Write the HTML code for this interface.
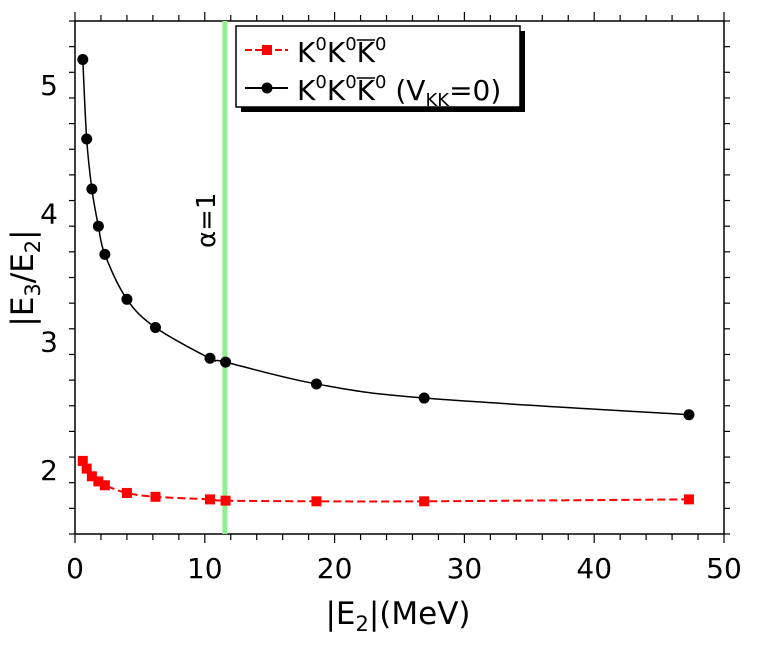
<!DOCTYPE html>
<html><head><meta charset="utf-8"><style>
body{margin:0;background:#fff}
svg text{font-family:"DejaVu Sans","Liberation Sans",sans-serif}
</style></head><body>
<svg id="chart" width="764" height="648" xmlns="http://www.w3.org/2000/svg">
<g id="axes"></g><g id="plot"></g>
<text x="398" y="624" font-size="31" text-anchor="middle">|E<tspan font-size="21" dy="7">2</tspan><tspan dy="-7">|(MeV)</tspan></text>
<text transform="translate(33,278) rotate(-90)" font-size="31" text-anchor="middle">|E<tspan font-size="21" dy="7">3</tspan><tspan dy="-7">/E</tspan><tspan font-size="21" dy="7">2</tspan><tspan dy="-7">|</tspan></text>
<text transform="translate(215,248) rotate(-90)" font-size="26">α=1</text>
<g>
<rect x="241" y="31" width="284" height="81" fill="#000"/>
<rect x="236" y="26" width="284" height="81" fill="#fff" stroke="#000" stroke-width="1.5"/>
<g>
<line x1="245" y1="50" x2="288" y2="50" stroke="red" stroke-width="2" stroke-dasharray="7,3"/>
<rect x="262" y="45" width="10" height="10" fill="red"/>
<text id="lg1" x="297" y="62" font-size="28">K<tspan font-size="18" dy="-12">0</tspan><tspan dy="12">K</tspan><tspan font-size="18" dy="-12">0</tspan><tspan dy="12">K</tspan><tspan font-size="18" dy="-12">0</tspan></text>
</g>
<g>
<line x1="245" y1="88" x2="288" y2="88" stroke="#000" stroke-width="2"/>
<circle cx="267" cy="88" r="5.5" fill="#000"/>
<text id="lg2" x="297" y="100" font-size="28">K<tspan font-size="18" dy="-12">0</tspan><tspan dy="12">K</tspan><tspan font-size="18" dy="-12">0</tspan><tspan dy="12">K</tspan><tspan font-size="18" dy="-12">0</tspan><tspan dy="12"> (V</tspan><tspan font-size="18" dy="6">KK</tspan><tspan dy="-6">=0)</tspan></text>
</g>
</g>
</svg>
<script>
const xVals=[0.6,0.9,1.3,1.8,2.3,4.0,6.2,10.4,11.6,18.6,26.9,47.3];
const blackVals=[5.2,4.58,4.19,3.9,3.68,3.33,3.11,2.87,2.84,2.67,2.56,2.43];
const redVals=[2.07,2.01,1.95,1.91,1.88,1.82,1.79,1.77,1.76,1.755,1.755,1.77];
const xTicks=[0,10,20,30,40,50];
const yTicks=[2,3,4,5];
const alphaX=11.55;
const L=75,R=724,T=21,B=534,xmin=0,xmax=50,ymin=1.5,ymax=5.5;
const sx=v=>L+(v-xmin)/(xmax-xmin)*(R-L);
const sy=v=>B-(v-ymin)/(ymax-ymin)*(B-T);
const NS="http://www.w3.org/2000/svg";
function mk(t,a,p){const e=document.createElementNS(NS,t);for(const k in a)e.setAttribute(k,a[k]);p.appendChild(e);return e;}
const ax=document.getElementById('axes'),pl=document.getElementById('plot');
const frame=mk('rect',{x:L,y:T,width:R-L,height:B-T,fill:'none',stroke:'#000','stroke-width':1.5},ax);


for(let v=0;v<=50.001;v+=2){const x=sx(v),maj=Math.abs(v%10)<1e-6,len=maj?9:6;
const t1=mk('line',{x1:x,y1:B,x2:x,y2:B+len,stroke:'#000','stroke-width':1.2},ax);


const t2=mk('line',{x1:x,y1:T,x2:x,y2:T-len,stroke:'#000','stroke-width':1.2},ax);

}
xTicks.forEach(v=>{const t=mk('text',{x:sx(v),y:B+44,'font-size':28,'text-anchor':'middle'},ax);t.textContent=v;

});
for(let i=0;i<=20;i++){const v=1.5+i*0.2,y=sy(v),maj=Math.abs(v-Math.round(v))<1e-6,len=maj?9:6;
const t1=mk('line',{x1:L,y1:y,x2:L-len,y2:y,stroke:'#000','stroke-width':1.2},ax);


const t2=mk('line',{x1:R,y1:y,x2:R+len,y2:y,stroke:'#000','stroke-width':1.2},ax);

}
yTicks.forEach(v=>{const t=mk('text',{x:L-17,y:sy(v)+10,'font-size':28,'text-anchor':'end'},ax);t.textContent=v;

});
const gl=mk('line',{x1:sx(alphaX),y1:T,x2:sx(alphaX),y2:B,stroke:'#90ee90','stroke-width':5},pl);


function smooth(ys){const p=xVals.map((x,i)=>[sx(x),sy(ys[i])]);let d='M'+p[0];
for(let i=0;i<p.length-1;i++){const p0=p[i-1]||p[i],p1=p[i],p2=p[i+1],p3=p[i+2]||p2;
d+=' C'+(p1[0]+(p2[0]-p0[0])/6)+','+(p1[1]+(p2[1]-p0[1])/6)+' '+(p2[0]-(p3[0]-p1[0])/6)+','+(p2[1]-(p3[1]-p1[1])/6)+' '+p2;}return d;}
const rl=mk('path',{d:smooth(redVals),fill:'none',stroke:'red','stroke-width':2,'stroke-dasharray':'8,4'},pl);


const bl=mk('path',{d:smooth(blackVals),fill:'none',stroke:'#000','stroke-width':1.5},pl);


xVals.forEach((x,i)=>{const r=mk('rect',{x:sx(x)-5,y:sy(redVals[i])-5,width:10,height:10,fill:'red'},pl);


const c=mk('circle',{cx:sx(x),cy:sy(blackVals[i]),r:5.5,fill:'#000'},pl);

});
['lg1','lg2'].forEach(id=>{const t=document.getElementById(id);const e=t.getExtentOfChar(4);const base=+t.getAttribute('y');
const o=mk('line',{x1:e.x,x2:e.x+e.width,y1:base-22,y2:base-22,stroke:'#000','stroke-width':1.5},t.parentNode);

});
</script>
</body></html>
